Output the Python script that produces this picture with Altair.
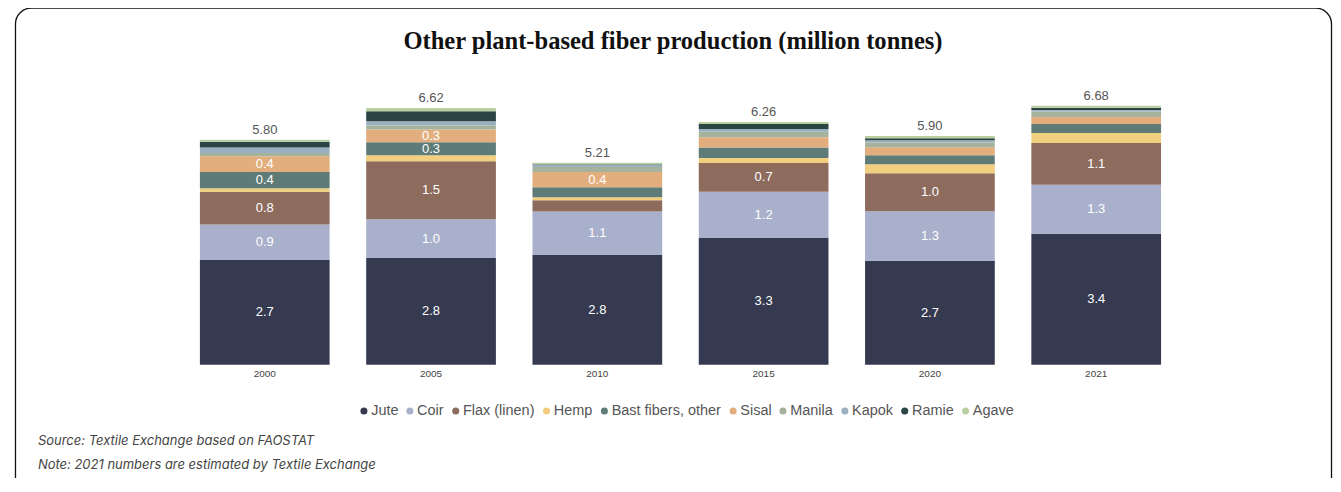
import altair as alt
import pandas as pd

years = ["2000", "2005", "2010", "2015", "2020", "2021"]
fibers = ["Jute", "Coir", "Flax (linen)", "Hemp", "Bast fibers, other",
          "Sisal", "Manila", "Kapok", "Ramie", "Agave"]
colors = ["#363a50", "#a9b0cc", "#8d6c5e", "#f2cf7e", "#5e7b78",
          "#e3ae7e", "#a5b29c", "#9aafbf", "#2b4444", "#b8d0a0"]

jute = [2.70, 2.75, 2.83, 3.27, 2.68, 3.38]
coir = [0.92, 1.00, 1.12, 1.19, 1.28, 1.26]
flax = [0.84, 1.50, 0.29, 0.74, 0.98, 1.08]
hemp = [0.09, 0.15, 0.08, 0.13, 0.23, 0.26]
bast = [0.42, 0.34, 0.26, 0.27, 0.23, 0.23]
sisal = [0.41, 0.33, 0.39, 0.27, 0.21, 0.18]
manila = [0.08, 0.10, 0.13, 0.14, 0.12, 0.14]
kapok = [0.14, 0.11, 0.06, 0.07, 0.06, 0.04]
ramie = [0.15, 0.26, 0.01, 0.13, 0.05, 0.06]
agave = [0.05, 0.08, 0.04, 0.05, 0.06, 0.05]

series = [jute, coir, flax, hemp, bast, sisal, manila, kapok, ramie, agave]

title_text = "Other plant-based fiber production (million tonnes)"
source_text = "Source: Textile Exchange based on FAOSTAT"
note_text = "Note: 2021 numbers are estimated by Textile Exchange"

rows = []
for i, (f, vals) in enumerate(zip(fibers, series)):
    for y, v in zip(years, vals):
        rows.append({"year": y, "fiber": f, "idx": i, "value": v})
df = pd.DataFrame(rows)

base = alt.Chart(df)
stacked = base.transform_stack(
    stack="value", as_=["y0", "y1"], groupby=["year"],
    sort=[alt.SortField("idx", order="ascending")]
).transform_calculate(mid="(datum.y0 + datum.y1) / 2")

x_enc = alt.X("year:N", sort=years,
              scale=alt.Scale(paddingInner=0.22, paddingOuter=0.11),
              axis=alt.Axis(title=None, labelAngle=0, domain=False, ticks=False,
                            labelFontSize=10, labelColor="#444",
                            labelFont="Liberation Sans", labelPadding=4))
yscale = alt.Scale(domain=[0, 7])

bars = stacked.mark_bar().encode(
    x=x_enc,
    y=alt.Y("y0:Q", scale=yscale, axis=None),
    y2="y1:Q",
    color=alt.Color("fiber:N", scale=alt.Scale(domain=fibers, range=colors),
                    legend=alt.Legend(title=None, orient="none", legendX=175.5, legendY=311,
                                      direction="horizontal", symbolType="circle",
                                      symbolSize=50, symbolStrokeWidth=0,
                                      labelFontSize=14.5, labelColor="#555",
                                      labelFont="Liberation Sans", labelOffset=0,
                                      columnPadding=4, padding=0)),
)

labels = stacked.transform_filter("datum.value >= 0.3").mark_text(
    color="white", fontSize=13, font="Liberation Sans"
).encode(
    x=x_enc,
    y=alt.Y("mid:Q", scale=yscale, axis=None),
    text=alt.Text("value:Q", format=".1f"),
)

totals = base.transform_aggregate(total="sum(value)", groupby=["year"]).mark_text(
    dy=-10, color="#555", fontSize=13, font="Liberation Sans"
).encode(
    x=x_enc,
    y=alt.Y("total:Q", scale=yscale, axis=None),
    text=alt.Text("total:Q", format=".2f"),
)

title = alt.Chart(pd.DataFrame({"t": [title_text]})).mark_text(
    font="Liberation Serif", fontWeight="bold", fontSize=24.6, color="#111",
    align="center", baseline="middle"
).encode(x=alt.value(492.5), y=alt.value(-51), text="t:N")

src = alt.Chart(pd.DataFrame({"t": [source_text]})).mark_text(
    font="Inter", fontStyle="italic", fontSize=13, color="#444",
    align="left", baseline="middle"
).encode(x=alt.value(-144), y=alt.value(348), text="t:N")

note = alt.Chart(pd.DataFrame({"t": [note_text]})).mark_text(
    font="Inter", fontStyle="italic", fontSize=13, color="#444",
    align="left", baseline="middle"
).encode(x=alt.value(-144), y=alt.value(373), text="t:N")

border = alt.Chart(pd.DataFrame({"a": [0]})).mark_rect(
    fillOpacity=0, stroke="#111", strokeWidth=1.3, cornerRadius=16, clip=False
).encode(x=alt.value(-166.5), x2=alt.value(1152.5), y=alt.value(-85.5), y2=alt.value(410))

chart = alt.layer(border, bars, labels, totals, title, src, note).properties(
    width=1000, height=272,
    autosize=alt.AutoSizeParams(type="none"),
    padding={"left": 174, "top": 85, "right": 154, "bottom": 113},
).configure_view(stroke=None)

chart.save("out.html", embed_options={"renderer": "svg", "actions": False})
